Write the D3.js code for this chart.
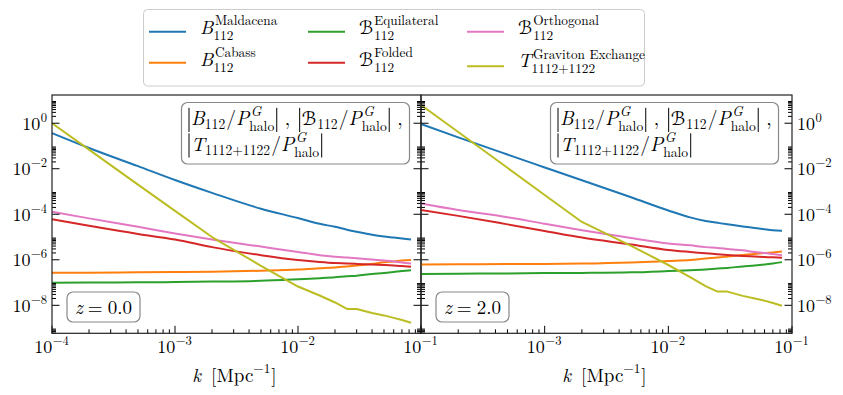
<!DOCTYPE html>
<html>
<head>
<meta charset="utf-8">
<script src="https://cdn.jsdelivr.net/npm/d3@7"></script>
<style>
  body { margin: 0; background: #fff; }
</style>
</head>
<body>
<div id="chart"></div>
<script>
// wavenumbers shared by every curve [Mpc^-1]
const kValues = [1e-4, 2e-4, 5e-4, 1e-3, 2e-3, 5e-3, 1e-2, 1.5e-2, 2e-2, 2.5e-2, 3e-2, 4e-2, 5e-2, 6e-2, 7e-2, 8.3e-2];

// z = 0.0
const maldacenaZ0   = [0.37, 0.082, 0.013, 3.2e-3, 8.7e-4, 1.75e-4, 6.8e-5, 3.8e-5, 2.8e-5, 2.1e-5, 1.7e-5, 1.25e-5, 1.05e-5, 9.5e-6, 8.7e-6, 7.8e-6];
const cabassZ0      = [2.7e-7, 2.7e-7, 2.8e-7, 2.9e-7, 3.0e-7, 3.3e-7, 3.7e-7, 4.2e-7, 4.6e-7, 5.1e-7, 5.6e-7, 6.6e-7, 7.8e-7, 8.5e-7, 9.3e-7, 9.8e-7];
const equilateralZ0 = [9.8e-8, 1.0e-7, 1.02e-7, 1.05e-7, 1.1e-7, 1.2e-7, 1.4e-7, 1.55e-7, 1.7e-7, 1.9e-7, 2.0e-7, 2.4e-7, 2.6e-7, 2.9e-7, 3.2e-7, 3.5e-7];
const foldedZ0      = [6.0e-5, 3.1e-5, 1.36e-5, 7.8e-6, 3.6e-6, 1.6e-6, 9.8e-7, 8.0e-7, 7.2e-7, 6.9e-7, 6.6e-7, 6.2e-7, 5.9e-7, 5.6e-7, 5.3e-7, 5.0e-7];
const orthogonalZ0  = [1.3e-4, 6.6e-5, 2.8e-5, 1.44e-5, 7.8e-6, 3.8e-6, 2.2e-6, 1.6e-6, 1.37e-6, 1.26e-6, 1.17e-6, 1.03e-6, 9.3e-7, 8.5e-7, 7.6e-7, 6.9e-7];
const gravitonZ0    = [1.0, 0.069, 2.0e-3, 1.4e-4, 1.0e-5, 5.4e-7, 6.7e-8, 2.7e-8, 1.33e-8, 6.9e-9, 6.9e-9, 4.6e-9, 3.6e-9, 2.8e-9, 2.25e-9, 1.7e-9];

// z = 2.0
const maldacenaZ2   = [0.93, 0.24, 0.042, 0.0114, 3.1e-3, 5.6e-4, 1.47e-4, 7.3e-5, 5.1e-5, 4.2e-5, 3.6e-5, 2.9e-5, 2.5e-5, 2.2e-5, 2.0e-5, 1.9e-5];
const cabassZ2      = [6.2e-7, 6.3e-7, 6.6e-7, 6.6e-7, 6.8e-7, 7.6e-7, 8.9e-7, 9.8e-7, 1.15e-6, 1.26e-6, 1.39e-6, 1.62e-6, 1.8e-6, 2.0e-6, 2.1e-6, 2.3e-6];
const equilateralZ2 = [2.4e-7, 2.45e-7, 2.5e-7, 2.6e-7, 2.65e-7, 2.8e-7, 3.2e-7, 3.5e-7, 3.7e-7, 4.1e-7, 4.4e-7, 5.1e-7, 5.6e-7, 6.2e-7, 6.9e-7, 7.9e-7];
const foldedZ2      = [1.55e-4, 8.5e-5, 3.6e-5, 1.85e-5, 9.5e-6, 4.7e-6, 2.7e-6, 2.2e-6, 1.93e-6, 1.74e-6, 1.62e-6, 1.47e-6, 1.39e-6, 1.32e-6, 1.28e-6, 1.24e-6];
const orthogonalZ2  = [3.0e-4, 1.55e-4, 7.4e-5, 3.8e-5, 2.0e-5, 9.1e-6, 5.2e-6, 4.3e-6, 3.6e-6, 3.3e-6, 3.0e-6, 2.6e-6, 2.2e-6, 2.0e-6, 1.8e-6, 1.6e-6];
const gravitonZ2    = [6.3, 0.41, 0.011, 7.0e-4, 4.6e-5, 4.1e-6, 5.9e-7, 1.75e-7, 7.0e-8, 4.0e-8, 4.0e-8, 2.6e-8, 2.0e-8, 1.6e-8, 1.26e-8, 9.6e-9];

// tick exponents
const xTickExps = [-4, -3, -2, -1];
const yTickExps = [0, -2, -4, -6, -8];

const seriesNames  = ["maldacena", "cabass", "equilateral", "folded", "orthogonal", "graviton"];
const seriesColors = ["#1f77b4", "#ff7f0e", "#2ca02c", "#d62728", "#e377c2", "#bcbd22"];

const panels = [
    { z: "0.0", data: [maldacenaZ0, cabassZ0, equilateralZ0, foldedZ0, orthogonalZ0, gravitonZ0],
      x0: 52, x1: 421, labelSide: "left", xLabelExps: [-4, -3, -2, -1] },
    { z: "2.0", data: [maldacenaZ2, cabassZ2, equilateralZ2, foldedZ2, orthogonalZ2, gravitonZ2],
      x0: 421, x1: 792, labelSide: "right", xLabelExps: [-3, -2, -1] }
];

const width = 843, height = 395;
const plotTop = 95, plotBottom = 333.3;

const svg = d3.select("#chart")
    .append("svg")
    .attr("width", width)
    .attr("height", height);

const LM = '"Latin Modern Roman"';
const CAL = '"DejaVu Sans"';

// lays out a little piece of math: returns group and total width
function mathLabel(parent, tokens, size) {
    const g = parent.append("g");
    const sc = size * 0.7;
    let cx = 0;
    function put(str, x, y, fs, italic, fam) {
        const t = g.append("text")
            .attr("x", x).attr("y", y)
            .style("font-family", fam || LM)
            .style("font-size", fs + "px")
            .style("font-style", italic ? "italic" : "normal")
            .attr("fill", "#000")
            .text(str);
        return t.node().getComputedTextLength();
    }
    tokens.forEach(tok => {
        if (tok.bar) {
            g.append("line")
                .attr("x1", cx + 1.5).attr("x2", cx + 1.5)
                .attr("y1", -size * 0.88).attr("y2", size * 0.36)
                .attr("stroke", "#000").attr("stroke-width", 1);
            cx += 3.5;
        } else if (tok.sp) {
            cx += tok.sp;
        } else if (tok.sup !== undefined || tok.sub !== undefined) {
            let w = 0;
            const both = tok.sup !== undefined && tok.sub !== undefined;
            if (tok.sup !== undefined) w = Math.max(w, put(tok.sup, cx + (tok.supShift || 0), -size * 0.45, sc, tok.supIt) + (tok.supShift || 0));
            if (tok.sub !== undefined) w = Math.max(w, put(tok.sub, cx, size * (both ? 0.32 : 0.22), sc, false));
            cx += w + 1;
        } else if (tok.cal) {
            cx += put(tok.cal, cx, 0, size * 0.95, false, CAL) + 1;
        } else {
            cx += put(tok.t, cx, 0, size, tok.it);
        }
    });
    return { g: g, width: cx };
}

function tenPow(e) {
    return [{ t: "10" }, { sup: (e < 0 ? "\u2212" : "") + Math.abs(e), supShift: 0.5 }];
}

const ratioLine1 = [
    { bar: true }, { t: "B", it: true }, { sub: "112" }, { t: "/" }, { t: "P", it: true },
    { sup: "G", sub: "halo", supIt: true, supShift: 1.5 }, { bar: true }, { sp: 6 }, { t: "," }, { sp: 8 },
    { bar: true }, { cal: "\u212C" }, { sub: "112" }, { t: "/" }, { t: "P", it: true },
    { sup: "G", sub: "halo", supIt: true, supShift: 1.5 }, { bar: true }, { sp: 6 }, { t: "," }
];
const ratioLine2 = [
    { bar: true }, { t: "T", it: true }, { sub: "1112+1122" }, { t: "/" }, { t: "P", it: true },
    { sup: "G", sub: "halo", supIt: true, supShift: 1.5 }, { bar: true }
];

const y = d3.scaleLog()
    .domain([Math.pow(10, -9.23), Math.pow(10, 1.24)])
    .range([plotBottom, plotTop]);

// minor tick values
const yMinor = [];
[0, -2, -4, -6, -8, -10].forEach(e => {
    for (let m = 2; m <= 9; m++) yMinor.push(m * Math.pow(10, e));
});
const yMinorIn = yMinor.filter(v => v >= y.domain()[0] && v <= y.domain()[1]);
const xMinor = [];
[-4, -3, -2].forEach(e => { for (let m = 2; m <= 9; m++) xMinor.push(m * Math.pow(10, e)); });

panels.forEach(p => {
    const x = d3.scaleLog().domain([1e-4, 1e-1]).range([p.x0, p.x1]);
    const g = svg.append("g");

    // curves; graviton has real kinks so it stays linear
    p.data.forEach((vals, si) => {
        const line = d3.line()
            .x((d, i) => x(kValues[i]))
            .y(d => y(d))
            .curve(seriesNames[si] === "graviton" ? d3.curveLinear : d3.curveMonotoneX);
        g.append("path")
            .datum(vals)
            .attr("d", line)
            .attr("fill", "none")
            .attr("stroke", seriesColors[si])
            .attr("stroke-width", 2)
            .attr("stroke-linejoin", "round");
    });

    // ticks, inward
    const tk = g.append("g").attr("stroke", "#000").attr("stroke-width", 1);
    xTickExps.forEach(e => {
        const xx = x(Math.pow(10, e));
        tk.append("line").attr("x1", xx).attr("x2", xx).attr("y1", plotBottom).attr("y2", plotBottom - 7.5);
    });
    xMinor.forEach(v => {
        const xx = x(v);
        tk.append("line").attr("x1", xx).attr("x2", xx).attr("y1", plotBottom).attr("y2", plotBottom - 4);
    });
    [[p.x0, 1], [p.x1, -1]].forEach(([xe, dir]) => {
        yTickExps.forEach(e => {
            const yy = y(Math.pow(10, e));
            tk.append("line").attr("x1", xe).attr("x2", xe + dir * 7.5).attr("y1", yy).attr("y2", yy);
        });
        yMinorIn.forEach(v => {
            const yy = y(v);
            tk.append("line").attr("x1", xe).attr("x2", xe + dir * 4).attr("y1", yy).attr("y2", yy);
        });
    });

    // frame
    g.append("rect")
        .attr("x", p.x0).attr("y", plotTop)
        .attr("width", p.x1 - p.x0).attr("height", plotBottom - plotTop)
        .attr("fill", "none").attr("stroke", "#222").attr("stroke-width", 1.2);

    // x tick labels
    p.xLabelExps.forEach(e => {
        const m = mathLabel(g, tenPow(e), 18);
        m.g.attr("transform", `translate(${x(Math.pow(10, e)) - m.width / 2},${353})`);
    });

    // y tick labels
    yTickExps.forEach(e => {
        const m = mathLabel(g, tenPow(e), 18);
        const yy = y(Math.pow(10, e)) + 6.5;
        if (p.labelSide === "left") m.g.attr("transform", `translate(${p.x0 - 4 - m.width},${yy})`);
        else m.g.attr("transform", `translate(${p.x1 + 5},${yy})`);
    });

    // x axis label
    const xl = mathLabel(g, [{ t: "k", it: true }, { sp: 10 }, { t: "[Mpc" }, { sup: "\u22121" }, { t: "]" }], 19);
    xl.g.attr("transform", `translate(${(p.x0 + p.x1) / 2 - 2 - xl.width / 2},${381.5})`);

    // ratio text box
    const bx = p.x0 + 129.5;
    g.append("rect")
        .attr("x", bx).attr("y", 102.5).attr("width", 228).attr("height", 61.5)
        .attr("rx", 6).attr("fill", "#fff").attr("fill-opacity", 0.85)
        .attr("stroke", "#888").attr("stroke-width", 1.2);
    const l1 = mathLabel(g, ratioLine1, 19.5);
    l1.g.attr("transform", `translate(${bx + 6},${125})`);
    const l2 = mathLabel(g, ratioLine2, 19.5);
    l2.g.attr("transform", `translate(${bx + 6},${150.5})`);

    // redshift box
    const zx = p.x0 + 15;
    g.append("rect")
        .attr("x", zx).attr("y", 292).attr("width", 73).attr("height", 30)
        .attr("rx", 6).attr("fill", "#fff").attr("fill-opacity", 0.85)
        .attr("stroke", "#888").attr("stroke-width", 1.2);
    const zl = mathLabel(g, [{ t: "z", it: true }, { sp: 5 }, { t: "=" }, { sp: 5 }, { t: p.z }], 19);
    zl.g.attr("transform", `translate(${zx + 36.5 - zl.width / 2},${313.5})`);
});

// legend
const legend = svg.append("g");
legend.append("rect")
    .attr("x", 143.5).attr("y", 9.5).attr("width", 501).attr("height", 76.5)
    .attr("rx", 4).attr("fill", "#fff").attr("stroke", "#ccc").attr("stroke-width", 1);

const legendLabels = [
    [{ t: "B", it: true }, { sup: "Maldacena", sub: "112", supShift: 1.5 }],
    [{ t: "B", it: true }, { sup: "Cabass", sub: "112", supShift: 1.5 }],
    [{ cal: "\u212C" }, { sup: "Equilateral", sub: "112" }],
    [{ cal: "\u212C" }, { sup: "Folded", sub: "112" }],
    [{ cal: "\u212C" }, { sup: "Orthogonal", sub: "112" }],
    [{ t: "T", it: true }, { sup: "Graviton Exchange", sub: "1112+1122", supShift: 1.5 }]
];
const legendCols = [149, 308, 467];
const legendLineY = [31.7, 62.7];
const legendBase = [34, 66];
seriesNames.forEach((name, i) => {
    const col = Math.floor(i / 2), row = i % 2;
    const lx = legendCols[col];
    const extra = name === "graviton" ? 3.5 : 0;
    legend.append("line")
        .attr("x1", lx).attr("x2", lx + 37)
        .attr("y1", legendLineY[row] + extra).attr("y2", legendLineY[row] + extra)
        .attr("stroke", seriesColors[i]).attr("stroke-width", 2);
    const m = mathLabel(legend, legendLabels[i], 19);
    m.g.attr("transform", `translate(${lx + 51},${legendBase[row] + extra * 0.4})`);
});
</script>
</body>
</html>
